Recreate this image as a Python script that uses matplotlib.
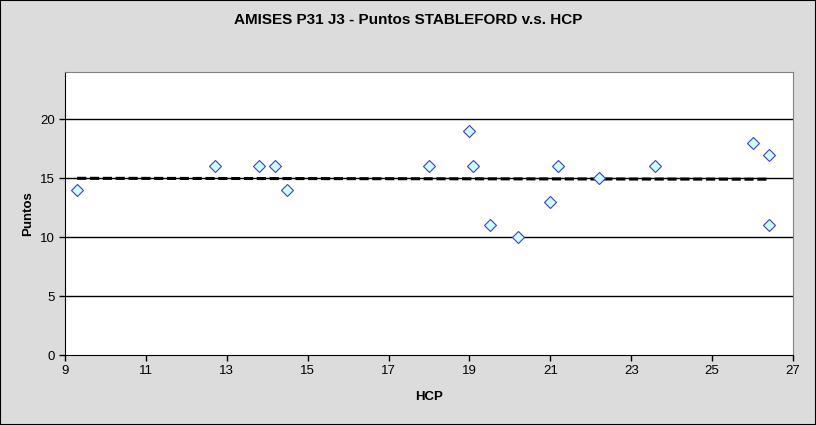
import numpy as np
import matplotlib
matplotlib.use("Agg")
import matplotlib.pyplot as plt
from matplotlib.patches import Rectangle

plt.rcParams["font.family"] = ["Liberation Sans", "DejaVu Sans"]

# HCP vs Stableford points
hcp = [9.3, 12.7, 13.8, 14.2, 14.5, 18.0, 19.0, 19.1, 19.5, 20.2,
       21.0, 21.2, 22.2, 23.6, 26.0, 26.4, 26.4]
puntos = [14, 16, 16, 16, 14, 16, 19, 16, 11, 10,
          13, 16, 15, 16, 18, 17, 11]
x_ticks = [9, 11, 13, 15, 17, 19, 21, 23, 25, 27]
y_ticks = [0, 5, 10, 15, 20]

fig = plt.figure(figsize=(8.16, 4.25), dpi=100)
fig.patch.set_facecolor("#DCDCDC")
fig.patches.append(Rectangle((0, 0), 1, 1, transform=fig.transFigure,
                             fill=False, edgecolor="black", linewidth=1.5))

ax = fig.add_axes([65 / 816, 70 / 425, 728 / 816, 283 / 425])
ax.set_facecolor("white")

# linear trend line over the data range
x = np.array(hcp)
slope, inter = np.polyfit(x, np.array(puntos), 1)
xl = np.array([x.min(), x.max()])
ax.plot(xl, slope * xl + inter, color="black", linestyle=(0, (3, 1.2)),
        linewidth=2.2, zorder=3)

ax.plot(hcp, puntos, linestyle="none", marker="D", markersize=6.6,
        markerfacecolor="#CCFFFF", markeredgecolor="#3D3DD0",
        markeredgewidth=0.8, zorder=4)

ax.set_xlim(9, 27)
ax.set_ylim(0, 24)
ax.set_xticks(x_ticks)
ax.set_yticks(y_ticks)
for yv in y_ticks[1:]:
    ax.axhline(yv, color="black", linewidth=1, zorder=1)

ax.tick_params(direction="out", length=4, width=1, labelsize=9.5, colors="black")
ax.spines["left"].set_color("black")
ax.spines["bottom"].set_color("black")
ax.spines["top"].set_color("#808080")
ax.spines["right"].set_color("#808080")

ax.set_xlabel("HCP", fontsize=9.5, fontweight="bold", labelpad=10)
ax.set_ylabel("Puntos", fontsize=9.5, fontweight="bold", labelpad=4)
fig.text(0.5, 1 - 20 / 425, "AMISES P31 J3 - Puntos STABLEFORD v.s. HCP",
         ha="center", va="center", fontsize=11, fontweight="bold")

fig.savefig("out.png", dpi=100, facecolor=fig.get_facecolor())
